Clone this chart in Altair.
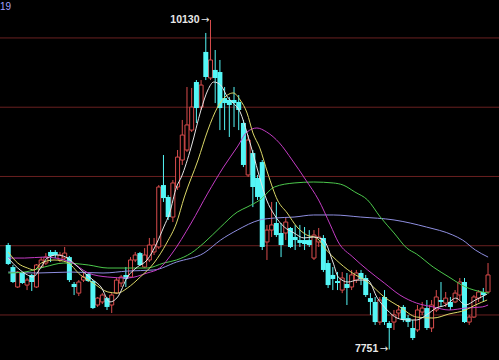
import altair as alt
import pandas as pd

# ---------------- data ----------------
opens = [8505, 8346, 8202, 8303, 8216, 8289, 8202, 8346, 8375, 8455,
         8455, 8397, 8411, 8418, 8224, 8158, 8252, 8296, 8245, 8072,
         8094, 8122, 8072, 8158, 8231, 8289, 8274, 8397, 8447, 8346,
         8397, 8455, 8491, 8938, 8852, 8707, 8924, 9119, 9191, 9335,
         9682, 9501, 9899, 9711, 9769, 9754, 9566, 9552, 9552, 9538,
         9386, 9011, 9169, 8989, 9104, 8527, 8613, 8664, 8592, 8592,
         8628, 8563, 8541, 8541, 8541, 8411, 8527, 8556, 8375, 8289,
         8245, 8180, 8224, 8202, 8252, 8303, 8267, 8122, 8094, 7949,
         8130, 7942, 7949, 8014, 8058, 7978, 7906, 7892, 8021, 8050,
         7906, 8036, 8108, 8086, 8094, 8094, 8144, 8238, 7949, 7985,
         8122, 8166, 8166]
highs = [8520, 8361, 8317, 8310, 8267, 8296, 8368, 8418, 8447, 8469,
         8469, 8455, 8491, 8426, 8238, 8252, 8310, 8303, 8252, 8130,
         8158, 8130, 8158, 8267, 8289, 8346, 8418, 8455, 8455, 8483,
         8556, 8556, 8938, 9155, 8866, 8974, 9191, 9408, 9646, 9639,
         9696, 9696, 10036, 10130, 9913, 9841, 9646, 9574, 9646, 9588,
         9408, 9299, 9191, 9011, 9119, 8650, 8816, 8816, 8664, 8700,
         8635, 8650, 8650, 8635, 8613, 8613, 8628, 8577, 8397, 8346,
         8310, 8310, 8303, 8325, 8325, 8325, 8289, 8158, 8130, 8130,
         8180, 7956, 8036, 8072, 8072, 8000, 7964, 8072, 8094, 8108,
         8108, 8180, 8238, 8166, 8130, 8180, 8267, 8267, 8000, 8144,
         8180, 8195, 8375]
lows = [8361, 8231, 8195, 8224, 8180, 8173, 8195, 8339, 8361, 8382,
        8411, 8382, 8397, 8238, 8144, 8137, 8238, 8238, 8043, 8058,
        8079, 8036, 8014, 8151, 8202, 8202, 8267, 8382, 8354, 8339,
        8382, 8433, 8476, 8816, 8686, 8671, 8902, 9083, 9177, 9321,
        9386, 9480, 9696, 9696, 9530, 9335, 9335, 9285, 9357, 9335,
        9068, 8996, 8779, 8830, 8469, 8397, 8563, 8563, 8418, 8541,
        8483, 8469, 8491, 8469, 8491, 8397, 8491, 8310, 8195, 8180,
        8180, 8158, 8072, 8180, 8231, 8216, 8130, 8000, 7928, 7928,
        7928, 7751, 7892, 7978, 7949, 7913, 7819, 7877, 8000, 7892,
        7877, 8021, 8058, 8058, 8036, 8086, 8108, 7942, 7928, 7978,
        8094, 8094, 8158]
closes = [8368, 8238, 8310, 8231, 8252, 8238, 8361, 8397, 8418, 8426,
          8433, 8433, 8447, 8252, 8202, 8238, 8274, 8245, 8050, 8122,
          8144, 8058, 8144, 8252, 8274, 8260, 8397, 8433, 8361, 8433,
          8505, 8505, 8924, 8844, 8707, 8953, 9140, 9299, 9372, 9501,
          9494, 9660, 9718, 9841, 9711, 9494, 9530, 9516, 9530, 9480,
          9083, 9263, 8924, 8852, 8491, 8613, 8650, 8577, 8505, 8671,
          8491, 8541, 8520, 8512, 8505, 8577, 8563, 8325, 8216, 8260,
          8231, 8267, 8195, 8289, 8303, 8260, 8144, 8094, 7949, 8108,
          7949, 7906, 8000, 8036, 7964, 7949, 7834, 8036, 8050, 7906,
          8072, 8130, 8094, 8122, 8058, 8158, 8238, 7949, 7985, 8130,
          8166, 8144, 8289]

# moving-average lines, read at sample positions (x in candle index units)
ma_white_x = [1.0, 3.02, 5.1, 6.15, 8.02, 9.27, 11.35, 13.23, 14.9, 16.98, 19.06, 20.73,
              22.6, 24.27, 26.35, 28.44, 30.52, 32.6, 34.06, 35.31, 36.77, 37.81, 39.9,
              41.98, 43.44, 44.69, 46.15, 47.6, 48.85, 50.31, 51.77, 53.02, 54.48, 55.94,
              57.6, 59.69, 61.77, 63.85, 65.94, 68.02, 70.1, 71.15, 73.23, 75.31, 77.4,
              79.48, 81.56, 83.65, 85.73, 87.81, 89.9, 91.98, 94.06, 96.15, 98.23,
              100.31, 102.81]
ma_white_y = [8411, 8339, 8289, 8274, 8346, 8411, 8433, 8418, 8375, 8310, 8252, 8202,
              8094, 8130, 8274, 8346, 8397, 8520, 8635, 8736, 8924, 8996, 9213,
              9480, 9624, 9682, 9660, 9574, 9530, 9465, 9314, 9169, 8989, 8830,
              8722, 8635, 8592, 8556, 8563, 8541, 8375, 8274, 8238, 8252, 8252,
              8122, 8036, 7978, 7964, 7964, 8000, 8050, 8072, 8122, 8072,
              8108, 8151]
ma_yellow_x = [1.0, 3.02, 5.1, 6.56, 8.02, 10.73, 13.44, 16.35, 19.06, 22.19, 24.27,
               26.35, 29.06, 31.98, 34.69, 36.77, 38.44, 41.35, 43.44, 45.52, 47.6,
               48.85, 50.31, 51.77, 53.02, 54.48, 56.15, 58.23, 60.31, 62.4, 64.48,
               66.56, 68.65, 70.73, 73.85, 77.4, 80.94, 84.27, 87.81, 91.35, 94.69,
               98.23, 100.31, 102.81]
ma_yellow_y = [8455, 8375, 8339, 8325, 8375, 8397, 8382, 8289, 8231, 8166, 8158,
               8195, 8274, 8375, 8520, 8664, 8852, 9119, 9335, 9501, 9588,
               9603, 9552, 9458, 9314, 9206, 9025, 8830, 8736, 8635, 8577,
               8556, 8469, 8397, 8310, 8238, 8130, 8058, 7985, 7978, 8007,
               8036, 8072, 8108]
ma_magenta_x = [1.0, 4.48, 8.65, 14.27, 18.02, 22.19, 26.35, 30.52, 33.23, 35.73, 39.9,
                43.44, 46.77, 49.69, 51.77, 53.85, 55.94, 58.65, 61.35, 64.27, 66.98,
                69.48, 71.15, 74.27, 77.4, 80.94, 84.27, 87.81, 91.35, 94.69, 98.23,
                101.77, 103.02]
ma_magenta_y = [8411, 8411, 8418, 8382, 8303, 8274, 8267, 8303, 8339, 8440, 8664,
                8880, 9068, 9213, 9321, 9350, 9321, 9242, 9119, 8974, 8830,
                8650, 8527, 8418, 8325, 8231, 8144, 8086, 8058, 8036, 8050,
                8058, 8072]
ma_green_x = [1.0, 4.48, 8.65, 12.81, 18.02, 22.19, 26.35, 30.52, 34.06, 36.77, 39.9,
              42.6, 46.15, 49.69, 51.77, 54.48, 57.6, 61.77, 65.94, 70.1, 72.19, 74.69,
              77.4, 80.1, 83.02, 85.73, 87.81, 91.35, 94.69, 98.23, 101.77, 103.23]
ma_green_y = [8303, 8310, 8346, 8375, 8361, 8339, 8339, 8339, 8375, 8397, 8447,
              8520, 8635, 8743, 8779, 8830, 8924, 8953, 8960, 8953, 8938, 8888,
              8830, 8707, 8592, 8483, 8440, 8346, 8274, 8202, 8166, 8158]
ma_purple_x = [1.0, 7.19, 14.27, 21.15, 26.35, 31.98, 36.77, 42.6, 46.15, 49.69, 54.48,
               57.6, 61.77, 65.94, 70.1, 75.94, 83.02, 89.9, 95.52, 97.6, 100.31, 103.02]
ma_purple_y = [8310, 8303, 8310, 8303, 8317, 8325, 8382, 8447, 8541, 8613, 8686,
               8700, 8707, 8722, 8722, 8707, 8686, 8635, 8577, 8541, 8469, 8418]

grid_levels = [8000, 8500, 9000, 9500, 10000]
marks_text = ["10130", "7751"]
marks_arrow = ["\u2192", "\u2192"]
marks_x = [44, 82]
marks_y = [10130, 7751]
corner_label = ["19"]

# ---------------- colours ----------------
RED = "#d84c4c"
CYAN = "#54f6f6"
GRID = "#6a2020"

df = pd.DataFrame({"i": list(range(1, len(opens) + 1)), "open": opens,
                   "high": highs, "low": lows, "close": closes})
df["dir"] = ["up" if c >= o else "down" for o, c in zip(opens, closes)]
df["top"] = df[["open", "close"]].max(axis=1)
df["bot"] = df[["open", "close"]].min(axis=1)

xs = alt.Scale(domain=[0.3125, 104.27], nice=False, zero=False)
ys = alt.Scale(domain=[7675, 10274], nice=False, zero=False)

X = lambda f: alt.X(f, type="quantitative", scale=xs, axis=None)
Y = lambda f: alt.Y(f, type="quantitative", scale=ys, axis=None)

grid = alt.Chart(pd.DataFrame({"y": grid_levels})).mark_rule(
    color=GRID, strokeWidth=1).encode(y=Y("y"))

base = alt.Chart(df)
wicks = base.mark_rule(strokeWidth=1).encode(
    x=X("i"), y=Y("low"), y2="high",
    color=alt.Color("dir:N", scale=alt.Scale(domain=["up", "down"], range=[RED, CYAN]),
                    legend=None))
up_bodies = base.transform_filter(alt.datum.dir == "up").mark_bar(
    size=4, fill="black", stroke=RED, strokeWidth=1).encode(
    x=X("i"), y=Y("bot"), y2="top")
down_bodies = base.transform_filter(alt.datum.dir == "down").mark_bar(
    size=5, color=CYAN).encode(x=X("i"), y=Y("bot"), y2="top")


def ma_line(xv, yv, col):
    return alt.Chart(pd.DataFrame({"x": xv, "y": yv})).mark_line(
        interpolate="monotone", strokeWidth=1, color=col).encode(x=X("x"), y=Y("y"))


lines = [
    ma_line(ma_purple_x, ma_purple_y, "#8e8ee0"),
    ma_line(ma_green_x, ma_green_y, "#4cc84c"),
    ma_line(ma_magenta_x, ma_magenta_y, "#c43cc4"),
    ma_line(ma_yellow_x, ma_yellow_y, "#dcd868"),
    ma_line(ma_white_x, ma_white_y, "#e6e6e6"),
]

ann_df = pd.DataFrame({"x": marks_x, "y": marks_y, "t": marks_text, "a": marks_arrow})
ann_num = alt.Chart(ann_df).mark_text(
    align="right", baseline="middle", dx=-11, font="Liberation Sans", fontSize=10.5,
    fontWeight="bold", color="#e8e8e8").encode(x=X("x"), y=Y("y"), text="t:N")
ann_arrow = alt.Chart(ann_df).mark_text(
    align="right", baseline="middle", dx=-1, font="DejaVu Sans", fontSize=10,
    color="#e8e8e8").encode(x=X("x"), y=Y("y"), text="a:N")

corner = alt.Chart(pd.DataFrame({"t": corner_label})).mark_text(
    align="left", baseline="middle", font="Liberation Sans", fontSize=10,
    color="#a0a0ff").encode(x=alt.value(0), y=alt.value(7), text="t:N")

chart = alt.layer(grid, wicks, up_bodies, down_bodies, *lines,
                  ann_num, ann_arrow, corner).properties(
    width=499, height=360, padding=0, autosize="none", background="black"
).configure_view(strokeWidth=0)

chart.save("out.html", embed_options={"renderer": "svg", "actions": False})
